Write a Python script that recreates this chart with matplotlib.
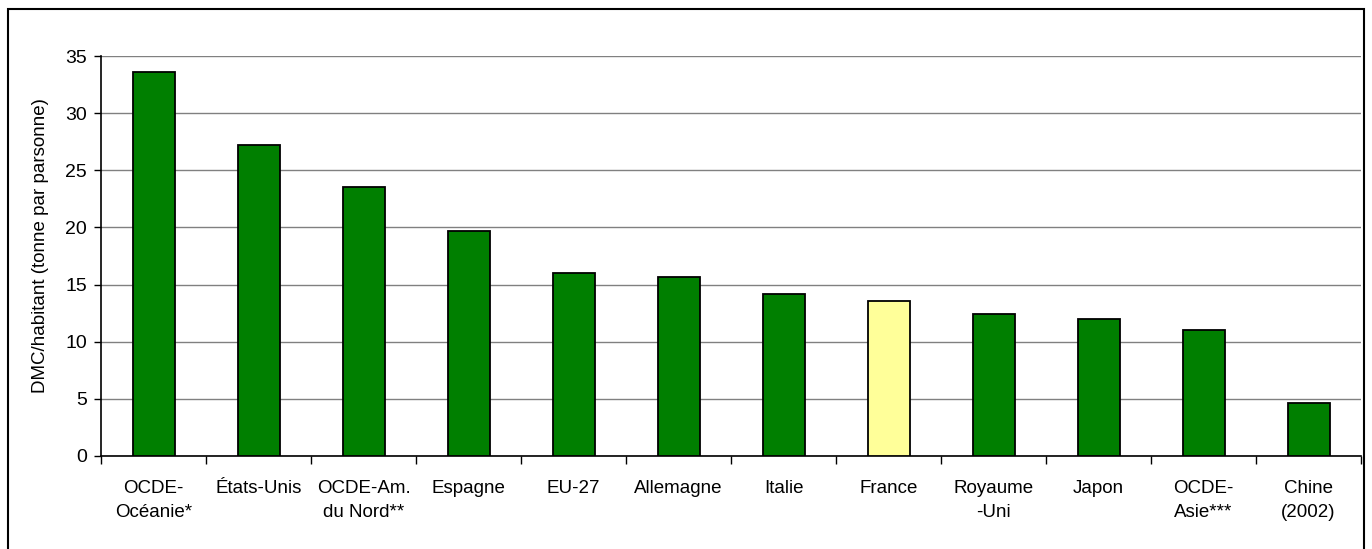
import matplotlib
matplotlib.use('Agg')
import matplotlib.pyplot as plt
from matplotlib.patches import Rectangle

plt.rc('font', family=['Liberation Sans', 'DejaVu Sans'])

# Data
labels = ['OCDE-\nOcéanie*', 'États-Unis', 'OCDE-Am.\ndu Nord**', 'Espagne', 'EU-27',
          'Allemagne', 'Italie', 'France', 'Royaume\n-Uni', 'Japon',
          'OCDE-\nAsie***', 'Chine\n(2002)']
values = [33.6, 27.2, 23.5, 19.65, 16.0, 15.7, 14.2, 13.6, 12.45, 12.0, 11.05, 4.65]
highlight = 'France'

colors = ['#FFFF99' if l == highlight else '#007F00' for l in labels]

fig = plt.figure(figsize=(13.72, 5.49), dpi=100)
ax = fig.add_axes([101/1372, 1 - 456/549, 1260/1372, 400/549])

x = range(len(values))
ax.bar(x, values, width=0.4, color=colors, edgecolor='black', linewidth=1.3, zorder=3)

ax.set_xlim(-0.5, len(values) - 0.5)
ax.set_ylim(0, 35)
ax.set_yticks(range(0, 36, 5))
ax.yaxis.grid(True, color='#808080', linewidth=1)
ax.set_axisbelow(True)

# ticks between categories, labels centred under bars
ax.set_xticks([i - 0.5 for i in range(len(values) + 1)])
ax.set_xticklabels([])
ax.set_xticks(list(x), minor=True)
ax.set_xticklabels(labels, minor=True, fontsize=13.5, linespacing=1.55, va='top')
ax.tick_params(axis='x', which='minor', length=0, pad=17)
ax.tick_params(axis='x', which='major', length=6, width=1, color='black')
ax.tick_params(axis='y', length=5, width=1, labelsize=14, pad=5)

for s in ['top', 'right']:
    ax.spines[s].set_visible(False)
for s in ['left', 'bottom']:
    ax.spines[s].set_linewidth(1.2)

ax.set_ylabel('DMC/habitant (tonne par parsonne)', fontsize=13.5)
ax.yaxis.set_label_coords(-0.041, 0.525)

# outer frame
fig.patches.append(Rectangle((8/1372, -0.02), 1356/1372, 1.02 - 9/549,
                             transform=fig.transFigure, fill=False,
                             edgecolor='black', linewidth=1.5))

plt.savefig('out.png', dpi=100)
